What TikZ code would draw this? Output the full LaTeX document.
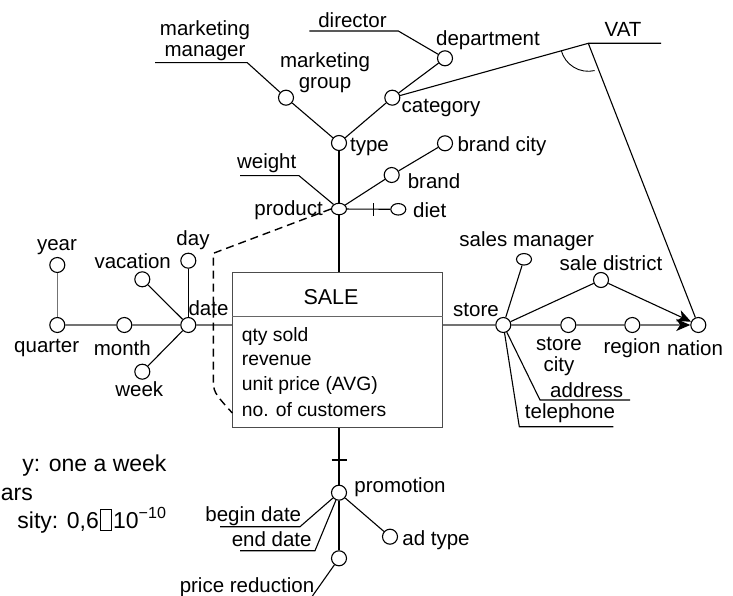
\documentclass[tikz,border=0pt]{standalone}
\usepackage{fontspec}
\setmainfont{Liberation Sans}
\usetikzlibrary{arrows.meta,shapes.geometric}
\newcommand\nglyph{\kern1.5pt{\setlength{\fboxsep}{0pt}\setlength{\fboxrule}{0.8pt}\raisebox{-0.08em}{\fbox{\rule{0pt}{0.86em}\rule{0.42em}{0pt}}}}\kern1.5pt}
\begin{document}
\begin{tikzpicture}[x=1pt,y=-1pt,
  every node/.style={inner sep=0pt},
  lbl/.style={font=\fontsize{20.5}{21}\selectfont, align=center},
  atxt/.style={font=\fontsize{19.3}{21}\selectfont, anchor=base west},
  big/.style={font=\fontsize{23}{24}\selectfont, anchor=base east},
  attrc/.style={circle, draw, fill=white, minimum size=15pt, line width=1.1pt},
  attre/.style={ellipse, draw, fill=white, minimum width=15pt, minimum height=11.5pt, line width=1.1pt},
  ln/.style={line width=1.1pt},
  gln/.style={line width=1.4pt, draw=black!55},
  tip/.style={-{Stealth[length=14pt,width=12pt,inset=4pt,black]}},
  dsh/.style={line width=1.4pt, dash pattern=on 8pt off 5pt}
]
\path[use as bounding box, clip] (0,0) rectangle (733,596);

% fact box
\node[draw=black!70, line width=1.2pt, minimum width=210.4pt, minimum height=155pt] (sale) at (337.5,349.8) {};
\coordinate (divL) at (232.3,316.7);
\coordinate (divR) at (442.7,316.7);
\draw[gln, draw=black!60] (divL) -- (divR);
\node[font=\fontsize{21.5}{22}\selectfont, anchor=base] (saletxt) at (331,304) {SALE};
\node[atxt] (m1) at (241.7,341.7) {qty sold};
\node[atxt] (m2) at (241.7,365.7) {revenue};
\node[atxt] (m3) at (241.7,390.7) {unit price (AVG)};
\node[atxt] (m4) at (241.7,416.7) {no. of customers};

% date hierarchy
\node[attrc] (quarter) at (57.3,325) {};
\node[attrc] (month) at (124.3,325) {};
\node[attrc] (date) at (188.3,325) {};
\node[attrc] (year) at (57.3,265) {};
\node[attrc] (vacation) at (142.3,279.3) {};
\node[attrc] (day) at (188.3,260.7) {};
\node[attrc] (week) at (142.3,371.7) {};
\draw[gln] (year) -- (quarter);
\draw[gln] (quarter) -- (month);
\draw[gln] (month) -- (date);
\draw[gln] (date) -- (date -| sale.west);
\draw[ln] (vacation) -- (date);
\draw[ln] (day) -- (date);
\draw[ln] (week) -- (date);
\node[lbl] (lyear) at (57,246.7) {year};
\node[lbl] (lvacation) at (132.7,261) {vacation};
\node[lbl] (lday) at (193,240) {day};
\node[lbl] (ldate) at (208.5,308) {date};
\node[lbl] (lquarter) at (46.7,347.7) {quarter};
\node[lbl] (lmonth) at (122.3,348) {month};
\node[lbl] (lweek) at (139.3,389.5) {week};

% product hierarchy
\node[attrc] (type) at (339,143) {};
\node[attrc] (mgroup) at (286,97.7) {};
\node[attrc] (category) at (392.3,97.7) {};
\node[attrc] (department) at (445,58.3) {};
\node[attre] (product) at (339,209) {};
\node[attrc] (brand) at (391.7,175) {};
\node[attrc] (brandcity) at (445,143.3) {};
\node[attre] (diet) at (398.3,209.3) {};
\draw[ln] (type) -- (product);
\draw[ln] (product) -- (product |- sale.north);
\draw[ln] (mgroup) -- (type);
\draw[ln] (category) -- (type);
\draw[ln] (department) -- (category);
\draw[ln] (product) -- (brand);
\draw[ln] (brand) -- (brandcity);
\draw[ln] (product) -- (diet);
\coordinate (dietT1) at (373.3,203);
\coordinate (dietT2) at (373.3,215.5);
\draw[ln] (dietT1) -- (dietT2);
\coordinate (dirL) at (309.3,31);
\coordinate (dirR) at (398.3,31);
\draw[ln] (dirL) -- (dirR) -- (department);
\coordinate (mmL) at (155,62.7);
\coordinate (mmR) at (247.3,62.7);
\draw[ln] (mmL) -- (mmR) -- (mgroup);
\coordinate (wL) at (240,175.7);
\coordinate (wR) at (299,175.7);
\draw[ln] (wL) -- (wR) -- (product);
% VAT
\coordinate (vatC) at (588.3,43.3);
\coordinate (vatR) at (661,43.3);
\node[attrc] (nation) at (698.3,325) {};
\draw[ln] (category) -- (vatC) -- (vatR);
\draw[ln] (vatC) -- (nation);
\draw[line width=0.9pt] (vatC) ++(165:28) arc[start angle=165, end angle=77, radius=28];

\node[lbl] (ltype) at (369.5,146.7) {type};
\node[lbl] (lbrand) at (434,180.7) {brand};
\node[lbl] (ldiet) at (429.7,210) {diet};
\node[lbl] (lbrandcity) at (502,146.7) {brand city};
\node[lbl, anchor=east] (lproduct) at (323,210) {product};
\node[lbl] (lweight) at (266.7,163.3) {weight};
\node[lbl] (lmm) at (205,41) {marketing\\manager};
\node[lbl] (lmg) at (325,73) {marketing\\group};
\node[lbl] (ldirector) at (352.5,20) {director};
\node[lbl] (ldepartment) at (488,40) {department};
\node[lbl] (lcategory) at (441,108.3) {category};
\node[lbl] (lvat) at (623,29.3) {VAT};

% dashed
\coordinate (dA) at (213.3,253.3);
\coordinate (dB) at (213.3,377);
\coordinate (dC) at (232.3,413);
\draw[dsh] (product.west) -- (dA) -- (dB) .. controls (213.3,392) .. (dC);

% store hierarchy
\node[attrc] (store) at (503.3,325) {};
\node[attre] (salesmgr) at (524,259.3) {};
\node[attrc] (saledist) at (601,280) {};
\node[attrc] (storecity) at (568.3,325) {};
\node[attrc] (region) at (632.3,325) {};
\draw[gln] (sale.east |- store) -- (store);
\draw[gln] (store) -- (storecity);
\draw[gln] (storecity) -- (region);
\draw[gln, tip] (region) -- (nation);
\draw[ln] (store) -- (salesmgr);
\draw[ln] (store) -- (saledist);
\draw[ln, tip] (saledist) -- (nation);
\coordinate (adL) at (540,400);
\coordinate (adR) at (630,400);
\draw[ln] (store) -- (adL) -- (adR);
\coordinate (telL) at (519.3,426.7);
\coordinate (telR) at (613.3,426.7);
\draw[ln] (store) -- (telL) -- (telR);
\node[lbl] (lsalesmgr) at (526.7,240.7) {sales manager};
\node[lbl] (lsaledist) at (611,263.3) {sale district};
\node[lbl] (lstore) at (476,310) {store};
\node[lbl] (lstorecity) at (559,356.7) {store\\city};
\node[lbl] (lregion) at (632,348.3) {region};
\node[lbl] (lnation) at (695,348.3) {nation};
\node[lbl] (laddress) at (586.7,390) {address};
\node[lbl] (ltel) at (570,413.3) {telephone};

% promotion
\node[attrc] (promotion) at (339,492.7) {};
\node[attrc] (adtype) at (390,536.7) {};
\node[attrc] (pricered) at (339,558.3) {};
\draw[ln] (sale.south -| promotion) -- (promotion);
\coordinate (pT1) at (331.5,460);
\coordinate (pT2) at (346.5,460);
\draw[ln] (pT1) -- (pT2);
\draw[ln] (promotion) -- (adtype);
\draw[ln] (promotion) -- (pricered);
\coordinate (bdL) at (220,526.7);
\coordinate (bdR) at (300,526.7);
\draw[ln] (promotion) -- (bdR) -- (bdL);
\coordinate (edL) at (240,550.7);
\coordinate (edR) at (315,550.7);
\draw[ln] (promotion) -- (edR) -- (edL);
\coordinate (prR) at (307.5,603);
\draw[ln] (pricered) -- (prR);
\node[lbl] (lpromotion) at (400,487.3) {promotion};
\node[lbl] (ladtype) at (436,540) {ad type};
\node[lbl] (lbegin) at (253.3,516) {begin date};
\node[lbl] (lend) at (271.7,539.3) {end date};
\node[lbl] (lprice) at (247,586.7) {price reduction};

% cropped notes
\node[big] (n1) at (166.7,471.5) {y: one a week};
\node[big] (n2) at (33,500) {ars};
\node[big] (n3) at (166.7,528) {sity: 0,6\nglyph10\textsuperscript{−10}};
\end{tikzpicture}
\end{document}
